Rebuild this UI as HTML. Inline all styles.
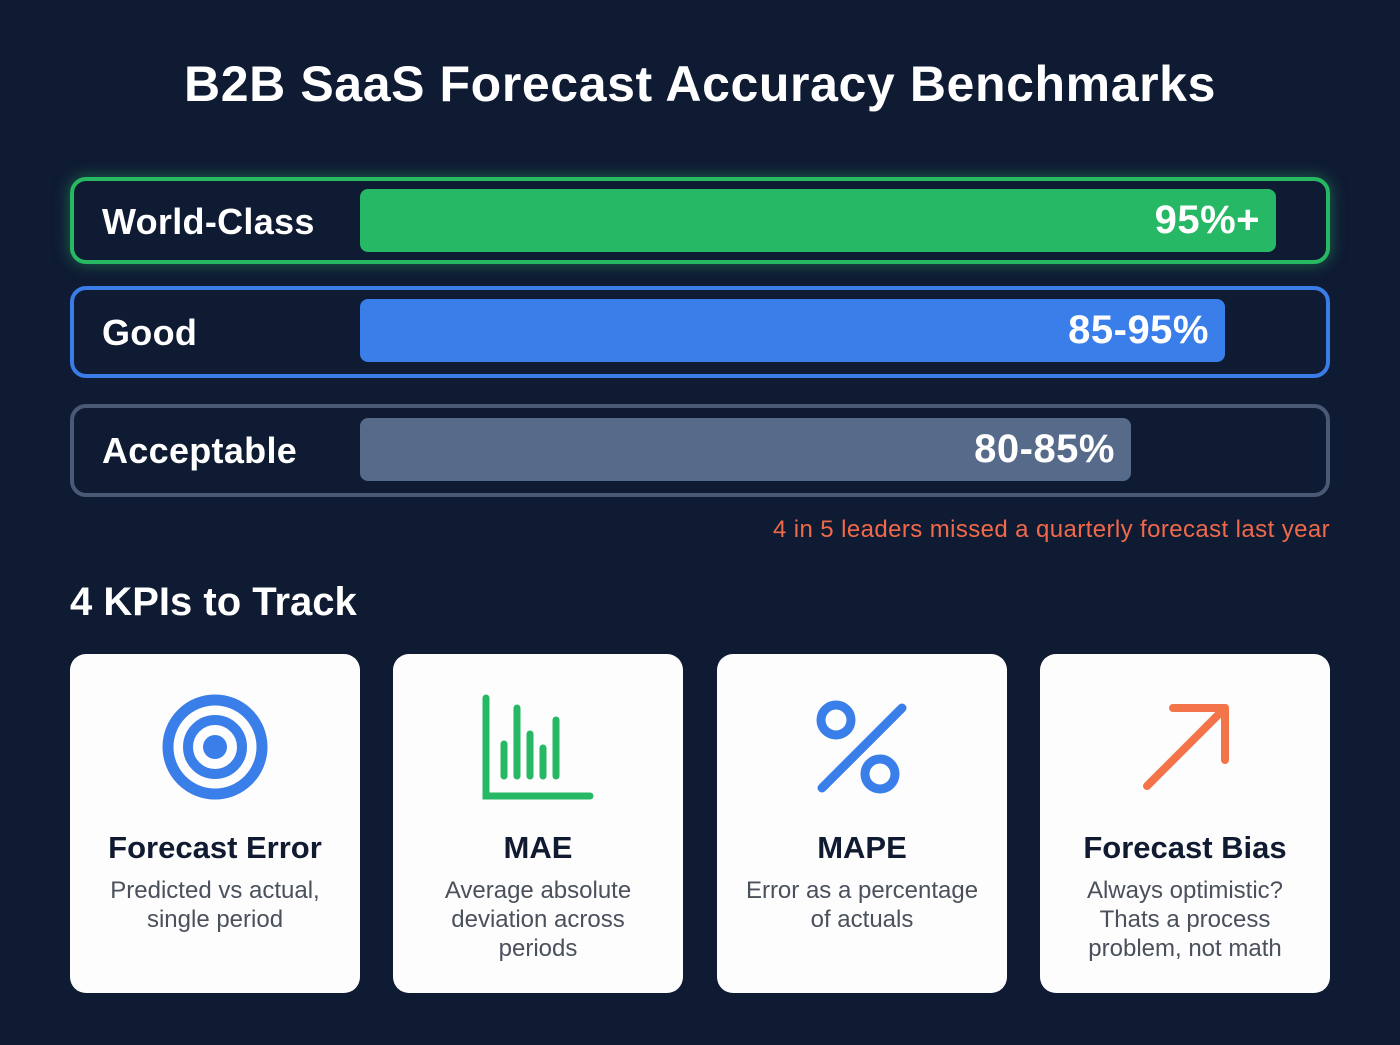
<!DOCTYPE html><html><head><style>
*{margin:0;padding:0;box-sizing:border-box}
body{width:1400px;height:1045px;background:#0f1a33;font-family:"Liberation Sans",sans-serif;position:relative;overflow:hidden;color:#fff}
.t{position:absolute;left:0;width:1400px;text-align:center;top:55px;font-size:50px;font-weight:bold;letter-spacing:0.6px}
.row{position:absolute;left:70px;width:1260px;border-radius:16px;border:4px solid}
.lab{position:absolute;left:28px;font-size:36px;font-weight:bold;letter-spacing:0.3px}
.bar{position:absolute;left:286px;border-radius:8px;text-align:right;padding-right:16px;font-size:40px;font-weight:bold;letter-spacing:0.5px}
.note{position:absolute;right:70px;top:516px;font-size:24px;letter-spacing:0.4px;color:#f06a4a}
.h2{position:absolute;left:70px;top:580px;font-size:40px;font-weight:bold}
.card{position:absolute;top:654px;width:290px;height:339px;background:#fdfdfd;border-radius:16px;text-align:center;color:#101a30}
.card svg{position:absolute;left:85px;top:36px}
.ct{position:absolute;top:176px;width:100%;font-size:31px;font-weight:bold}
.cd{position:absolute;top:222px;width:100%;font-size:24px;line-height:29px;color:#4a505c}
</style></head><body>
<div class="t">B2B SaaS Forecast Accuracy Benchmarks</div>
<div class="row" style="top:177px;height:87px;border-color:#27b862;box-shadow:0 0 16px rgba(39,184,98,.5)"><div class="lab" style="top:20px">World-Class</div><div class="bar" style="top:8px;width:916px;height:63px;line-height:63px;background:#26b864">95%+</div></div>
<div class="row" style="top:286px;height:92px;border-color:#3a7de8"><div class="lab" style="top:22px">Good</div><div class="bar" style="top:9px;width:865px;height:63px;line-height:63px;background:#3a7eea">85-95%</div></div>
<div class="row" style="top:404px;height:93px;border-color:#4a5a76"><div class="lab" style="top:22px">Acceptable</div><div class="bar" style="top:10px;width:771px;height:63px;line-height:63px;background:#566a8a">80-85%</div></div>
<div class="note">4 in 5 leaders missed a quarterly forecast last year</div>
<div class="h2">4 KPIs to Track</div>
<div class="card" style="left:70px"><svg width="120" height="120" viewBox="0 0 120 120"><circle cx="60" cy="57" r="47" fill="none" stroke="#3a7eea" stroke-width="11"/><circle cx="60" cy="57" r="27" fill="none" stroke="#3a7eea" stroke-width="10"/><circle cx="60" cy="57" r="12" fill="#3a7eea"/></svg><div class="ct">Forecast Error</div><div class="cd">Predicted vs actual,<br>single period</div></div>
<div class="card" style="left:393px"><svg width="120" height="120" viewBox="0 0 120 120"><g stroke="#26b864" stroke-width="7" stroke-linecap="round" fill="none"><path d="M8 8V106H112"/><path d="M26 54V86M39 18V86M52 44V86M65 58V86M78 30V86"/></g></svg><div class="ct">MAE</div><div class="cd">Average absolute<br>deviation across<br>periods</div></div>
<div class="card" style="left:717px"><svg width="120" height="120" viewBox="0 0 120 120"><g stroke="#3a7eea" stroke-width="9" stroke-linecap="round" fill="none"><circle cx="34" cy="30" r="15"/><circle cx="78" cy="84" r="15"/><path d="M100 18L20 98"/></g></svg><div class="ct">MAPE</div><div class="cd">Error as a percentage<br>of actuals</div></div>
<div class="card" style="left:1040px"><svg width="120" height="120" viewBox="0 0 120 120"><g stroke="#f4744a" stroke-width="8" stroke-linecap="round" stroke-linejoin="round" fill="none"><path d="M22 96L100 18"/><path d="M48 18H100V70"/></g></svg><div class="ct">Forecast Bias</div><div class="cd">Always optimistic?<br>Thats a process<br>problem, not math</div></div>
</body></html>
